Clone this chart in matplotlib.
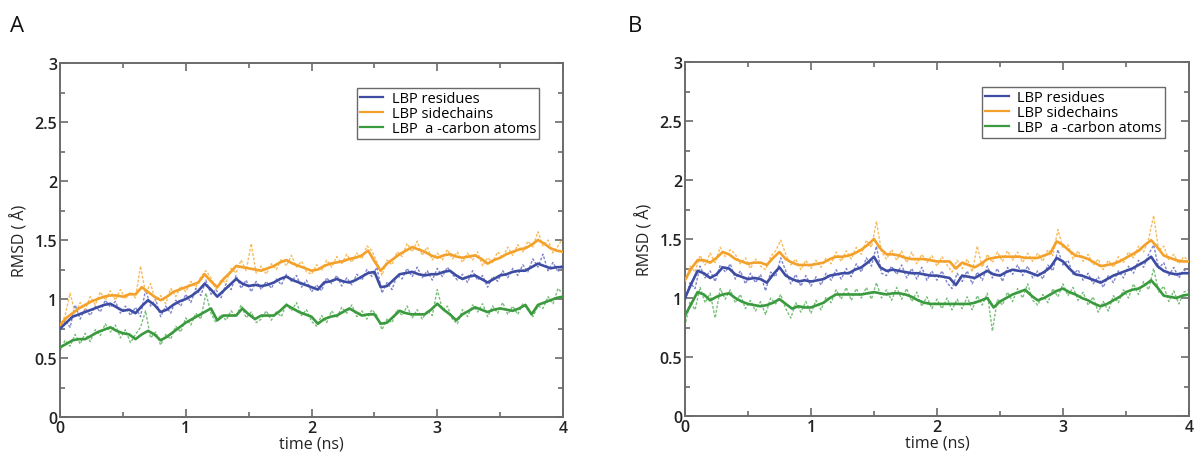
import numpy as np
import matplotlib
matplotlib.use("Agg")
import matplotlib.pyplot as plt
from matplotlib.ticker import MultipleLocator

plt.rcParams['font.family'] = ['Open Sans', 'DejaVu Sans']

# ---------------- data ----------------
labels = ["LBP residues", "LBP sidechains", "LBP  a -carbon atoms"]
panel_names = ["A", "B"]

# smoothed curves, sampled every 0.05 ns from 0 to 4 ns
t_smooth = np.linspace(0, 4, 81)
# raw curves, sampled every 0.04 ns from 0 to 4 ns
t_raw = np.linspace(0, 4, 101)

A_res_smooth = [0.75, 0.80, 0.85, 0.87, 0.89, 0.91, 0.93, 0.95, 0.96, 0.93,
                0.90, 0.91, 0.88, 0.94, 0.99, 0.95, 0.89, 0.91, 0.95, 0.98,
                1.00, 1.03, 1.07, 1.13, 1.08, 1.02, 1.07, 1.12, 1.17, 1.13,
                1.11, 1.12, 1.11, 1.12, 1.14, 1.17, 1.19, 1.16, 1.14, 1.12,
                1.10, 1.08, 1.14, 1.15, 1.17, 1.15, 1.14, 1.16, 1.19, 1.22,
                1.23, 1.10, 1.11, 1.16, 1.21, 1.22, 1.23, 1.21, 1.20, 1.21,
                1.21, 1.23, 1.24, 1.20, 1.17, 1.19, 1.20, 1.17, 1.14, 1.17,
                1.20, 1.21, 1.23, 1.24, 1.24, 1.27, 1.30, 1.28, 1.26, 1.27,
                1.27]
A_side_smooth = [0.78, 0.84, 0.88, 0.92, 0.95, 0.98, 1.00, 1.02, 1.03, 1.03,
                 1.02, 1.04, 1.04, 1.10, 1.06, 1.02, 0.99, 1.02, 1.06, 1.08,
                 1.10, 1.12, 1.14, 1.21, 1.15, 1.10, 1.17, 1.22, 1.28, 1.27,
                 1.26, 1.25, 1.24, 1.26, 1.28, 1.31, 1.33, 1.30, 1.28, 1.26,
                 1.24, 1.25, 1.28, 1.30, 1.31, 1.32, 1.34, 1.35, 1.37, 1.41,
                 1.32, 1.24, 1.30, 1.34, 1.38, 1.41, 1.44, 1.42, 1.40, 1.37,
                 1.35, 1.37, 1.38, 1.36, 1.35, 1.36, 1.37, 1.34, 1.30, 1.33,
                 1.35, 1.38, 1.40, 1.42, 1.43, 1.46, 1.50, 1.47, 1.43, 1.41,
                 1.40]
A_ca_smooth = [0.59, 0.62, 0.65, 0.66, 0.66, 0.69, 0.72, 0.74, 0.76, 0.73,
               0.71, 0.70, 0.66, 0.70, 0.73, 0.70, 0.65, 0.68, 0.72, 0.76,
               0.80, 0.83, 0.86, 0.89, 0.92, 0.82, 0.86, 0.86, 0.86, 0.92,
               0.87, 0.83, 0.86, 0.86, 0.86, 0.90, 0.95, 0.92, 0.89, 0.87,
               0.85, 0.79, 0.83, 0.85, 0.86, 0.89, 0.92, 0.89, 0.86, 0.87,
               0.87, 0.79, 0.80, 0.85, 0.90, 0.88, 0.87, 0.87, 0.87, 0.91,
               0.96, 0.91, 0.87, 0.82, 0.87, 0.90, 0.93, 0.91, 0.89, 0.91,
               0.92, 0.91, 0.90, 0.92, 0.95, 0.87, 0.95, 0.97, 0.99, 1.01,
               1.02]

A_res_raw = [0.73, 0.82, 0.76, 0.95, 0.83, 0.92, 0.86, 0.94, 0.89, 0.99,
             0.93, 0.98, 0.88, 0.94, 0.86, 0.93, 0.85, 1.08, 0.94, 1.00,
             0.85, 0.94, 0.88, 0.99, 0.94, 1.04, 0.97, 1.09, 1.03, 1.16,
             1.04, 1.08, 1.01, 1.13, 1.08, 1.20, 1.09, 1.16, 1.06, 1.15,
             1.08, 1.15, 1.09, 1.17, 1.12, 1.21, 1.15, 1.20, 1.10, 1.16,
             1.06, 1.12, 1.07, 1.18, 1.13, 1.20, 1.11, 1.18, 1.12, 1.21,
             1.16, 1.25, 1.19, 1.27, 1.05, 1.14, 1.08, 1.20, 1.17, 1.26,
             1.19, 1.27, 1.18, 1.24, 1.16, 1.26, 1.19, 1.27, 1.21, 1.16,
             1.21, 1.14, 1.24, 1.16, 1.20, 1.10, 1.19, 1.15, 1.24, 1.18,
             1.26, 1.20, 1.29, 1.23, 1.34, 1.27, 1.38, 1.24, 1.31, 1.23,
             1.31]
A_side_raw = [0.76, 0.86, 1.05, 0.88, 0.97, 0.91, 1.02, 0.95, 1.06, 0.99,
              1.07, 0.99, 1.08, 1.00, 1.06, 1.01, 1.28, 1.05, 1.13, 0.98,
              1.03, 0.96, 1.09, 1.02, 1.11, 1.06, 1.15, 1.10, 1.19, 1.24,
              1.18, 1.08, 1.16, 1.14, 1.26, 1.22, 1.33, 1.24, 1.47, 1.22,
              1.28, 1.21, 1.30, 1.25, 1.34, 1.28, 1.37, 1.27, 1.32, 1.23,
              1.21, 1.29, 1.24, 1.33, 1.27, 1.36, 1.30, 1.38, 1.31, 1.39,
              1.34, 1.45, 1.41, 1.31, 1.20, 1.33, 1.29, 1.40, 1.36, 1.47,
              1.40, 1.49, 1.37, 1.44, 1.33, 1.39, 1.33, 1.42, 1.34, 1.40,
              1.31, 1.39, 1.33, 1.40, 1.28, 1.35, 1.31, 1.40, 1.35, 1.44,
              1.37, 1.46, 1.40, 1.49, 1.44, 1.57, 1.45, 1.50, 1.39, 1.45,
              1.52]
A_ca_raw = [0.56, 0.65, 0.60, 0.70, 0.62, 0.71, 0.64, 0.74, 0.69, 0.79,
            0.72, 0.78, 0.67, 0.74, 0.63, 0.70, 0.76, 0.90, 0.67, 0.72,
            0.61, 0.70, 0.66, 0.77, 0.72, 0.84, 0.78, 0.88, 0.83, 1.05,
            0.88, 0.80, 0.87, 0.82, 0.90, 0.85, 0.95, 0.84, 0.89, 0.80,
            0.83, 0.90, 0.82, 0.89, 0.85, 0.96, 0.90, 0.97, 0.86, 0.91,
            0.81, 0.77, 0.86, 0.80, 0.90, 0.84, 0.93, 0.88, 0.95, 0.85,
            0.90, 0.83, 0.91, 0.86, 0.74, 0.83, 0.80, 0.91, 0.86, 0.94,
            0.84, 0.91, 0.83, 0.90, 0.86, 1.08, 0.91, 0.94, 0.83, 0.79,
            0.91, 0.85, 0.95, 0.89, 0.96, 0.85, 0.94, 0.88, 0.97, 0.87,
            0.94, 0.87, 0.96, 0.91, 0.85, 0.94, 0.92, 1.02, 0.96, 1.09,
            1.04]

B_res_smooth = [1.00, 1.12, 1.23, 1.21, 1.17, 1.20, 1.26, 1.25, 1.20, 1.18,
                1.16, 1.17, 1.16, 1.13, 1.20, 1.26, 1.19, 1.16, 1.14, 1.15,
                1.14, 1.15, 1.16, 1.19, 1.20, 1.21, 1.21, 1.24, 1.26, 1.30,
                1.35, 1.26, 1.23, 1.24, 1.23, 1.22, 1.21, 1.21, 1.20, 1.19,
                1.19, 1.18, 1.17, 1.11, 1.19, 1.18, 1.17, 1.20, 1.23, 1.20,
                1.19, 1.22, 1.24, 1.23, 1.23, 1.21, 1.19, 1.22, 1.26, 1.34,
                1.31, 1.25, 1.20, 1.19, 1.17, 1.15, 1.13, 1.16, 1.19, 1.21,
                1.23, 1.25, 1.28, 1.31, 1.35, 1.27, 1.23, 1.21, 1.20, 1.21,
                1.21]
B_side_smooth = [1.15, 1.25, 1.32, 1.32, 1.30, 1.34, 1.39, 1.37, 1.33, 1.31,
                 1.29, 1.30, 1.30, 1.28, 1.34, 1.39, 1.33, 1.30, 1.28, 1.28,
                 1.28, 1.29, 1.30, 1.33, 1.35, 1.35, 1.36, 1.38, 1.41, 1.45,
                 1.50, 1.42, 1.37, 1.37, 1.36, 1.34, 1.33, 1.33, 1.33, 1.32,
                 1.31, 1.31, 1.31, 1.25, 1.30, 1.28, 1.26, 1.29, 1.33, 1.34,
                 1.35, 1.35, 1.35, 1.35, 1.34, 1.34, 1.34, 1.36, 1.38, 1.48,
                 1.45, 1.40, 1.36, 1.35, 1.33, 1.30, 1.27, 1.28, 1.29, 1.31,
                 1.34, 1.37, 1.40, 1.45, 1.49, 1.43, 1.36, 1.34, 1.32, 1.31,
                 1.31]
B_ca_smooth = [0.85, 0.95, 1.05, 1.03, 0.98, 1.01, 1.03, 1.04, 1.00, 0.97,
               0.95, 0.94, 0.93, 0.94, 0.96, 0.99, 0.95, 0.91, 0.93, 0.92,
               0.92, 0.94, 0.96, 1.00, 1.03, 1.03, 1.03, 1.03, 1.03, 1.04,
               1.05, 1.04, 1.03, 1.04, 1.04, 1.03, 1.01, 0.98, 0.96, 0.95,
               0.95, 0.95, 0.95, 0.95, 0.95, 0.95, 0.96, 0.98, 1.00, 0.92,
               0.97, 1.00, 1.03, 1.05, 1.07, 1.02, 0.98, 1.00, 1.03, 1.06,
               1.08, 1.05, 1.03, 1.00, 0.98, 0.95, 0.93, 0.95, 0.98, 1.01,
               1.05, 1.07, 1.08, 1.11, 1.15, 1.09, 1.02, 1.01, 1.00, 1.02,
               1.03]

B_res_raw = [0.97, 1.13, 1.08, 1.27, 1.17, 1.23, 1.14, 1.28, 1.22, 1.29,
             1.16, 1.23, 1.12, 1.21, 1.13, 1.20, 1.06, 1.22, 1.18, 1.34,
             1.23, 1.12, 1.20, 1.10, 1.19, 1.10, 1.18, 1.11, 1.21, 1.15,
             1.24, 1.16, 1.25, 1.18, 1.29, 1.22, 1.34, 1.27, 1.44, 1.21,
             1.19, 1.27, 1.20, 1.28, 1.17, 1.25, 1.16, 1.26, 1.15, 1.23,
             1.15, 1.23, 1.13, 1.08, 1.21, 1.14, 1.23, 1.12, 1.22, 1.15,
             1.27, 1.17, 1.25, 1.14, 1.26, 1.20, 1.28, 1.19, 1.27, 1.17,
             1.23, 1.16, 1.28, 1.23, 1.41, 1.28, 1.32, 1.20, 1.24, 1.15,
             1.21, 1.12, 1.18, 1.09, 1.19, 1.13, 1.23, 1.17, 1.27, 1.21,
             1.32, 1.26, 1.37, 1.45, 1.25, 1.30, 1.19, 1.26, 1.17, 1.24,
             1.20]
B_side_raw = [1.12, 1.27, 1.22, 1.36, 1.28, 1.38, 1.30, 1.43, 1.35, 1.41,
              1.37, 1.29, 1.34, 1.25, 1.33, 1.27, 1.24, 1.35, 1.40, 1.49,
              1.37, 1.28, 1.33, 1.24, 1.32, 1.25, 1.32, 1.26, 1.34, 1.29,
              1.39, 1.31, 1.40, 1.33, 1.43, 1.37, 1.49, 1.43, 1.65, 1.39,
              1.33, 1.41, 1.32, 1.40, 1.30, 1.39, 1.29, 1.37, 1.30, 1.36,
              1.27, 1.35, 1.28, 1.22, 1.32, 1.25, 1.33, 1.22, 1.44, 1.26,
              1.37, 1.30, 1.39, 1.31, 1.40, 1.32, 1.39, 1.30, 1.38, 1.31,
              1.38, 1.31, 1.41, 1.36, 1.58, 1.42, 1.45, 1.33, 1.40, 1.31,
              1.37, 1.28, 1.33, 1.24, 1.32, 1.26, 1.35, 1.30, 1.39, 1.34,
              1.44, 1.39, 1.50, 1.70, 1.40, 1.44, 1.32, 1.37, 1.29, 1.35,
              1.31]
B_ca_raw = [0.76, 0.97, 0.90, 1.09, 0.96, 1.04, 0.83, 1.08, 0.99, 1.07,
            0.96, 1.03, 0.91, 0.98, 0.89, 0.97, 0.86, 1.00, 0.95, 1.03,
            0.91, 0.83, 0.96, 0.88, 0.97, 0.87, 0.98, 0.90, 1.01, 0.96,
            1.07, 0.99, 1.09, 0.98, 1.08, 1.00, 1.09, 0.99, 1.13, 1.00,
            1.07, 0.98, 1.09, 0.99, 1.08, 0.97, 1.05, 0.93, 1.01, 0.91,
            0.99, 0.91, 1.00, 0.90, 0.99, 0.91, 1.01, 0.90, 1.02, 0.94,
            1.04, 0.72, 0.99, 0.94, 1.05, 0.97, 1.08, 1.00, 1.12, 0.98,
            0.94, 1.03, 0.96, 1.08, 1.01, 1.12, 1.02, 1.09, 0.98, 1.05,
            0.94, 1.01, 0.88, 0.97, 0.89, 1.02, 0.96, 1.07, 1.00, 1.12,
            1.03, 1.14, 1.07, 1.25, 1.05, 1.10, 0.97, 1.06, 0.95, 1.05,
            1.07]

x_ticks = [0, 1, 2, 3, 4]
y_ticks = [0, 0.5, 1, 1.5, 2, 2.5, 3]
y_ticklabels = ["0", "0.5", "1", "1.5", "2", "2.5", "3"]

# ---------------- style ----------------
smooth_colors = ["#3e4da3", "#f4a12c", "#3a9a3e"]
raw_colors = ["#7279c4", "#f6b54f", "#6cb86e"]
spine_color = "#6b6b6b"

panels = [
    (A_res_smooth, A_side_smooth, A_ca_smooth, A_res_raw, A_side_raw, A_ca_raw),
    (B_res_smooth, B_side_smooth, B_ca_smooth, B_res_raw, B_side_raw, B_ca_raw),
]

fig = plt.figure(figsize=(11.96, 4.56), dpi=100)
axes_rects = [[0.0502, 0.0833, 0.4206, 0.7763], [0.5727, 0.0855, 0.4214, 0.7763]]
letter_pos = [(0.008, 0.93), (0.525, 0.93)]

for ax_rect, data, name, lp in zip(axes_rects, panels, panel_names, letter_pos):
    ax = fig.add_axes(ax_rect)
    smooths = data[:3]
    raws = data[3:]
    # raw (dashed) first, then smooth on top
    for raw, c in zip(raws, raw_colors):
        ax.plot(t_raw, raw, color=c, lw=1.0, ls=(0, (2.0, 1.2)), zorder=2,
                alpha=0.9)
    handles = []
    for sm, c, lab in zip(smooths, smooth_colors, labels):
        h, = ax.plot(t_smooth, sm, color=c, lw=1.9, label=lab, zorder=3)
        handles.append(h)

    ax.set_xlim(0, 4)
    ax.set_ylim(0, 3)
    ax.set_xticks(x_ticks)
    ax.set_yticks(y_ticks)
    ax.set_yticklabels(y_ticklabels)
    ax.xaxis.set_minor_locator(MultipleLocator(0.5))
    ax.yaxis.set_minor_locator(MultipleLocator(0.25))
    ax.tick_params(which="both", direction="in", top=True, right=True,
                   color=spine_color, width=1.2)
    ax.tick_params(which="major", length=6, labelsize=11.5, pad=2)
    ax.tick_params(which="minor", length=3.5)
    for lbl in ax.get_xticklabels() + ax.get_yticklabels():
        lbl.set_fontweight("semibold")
        lbl.set_color("#222222")
    for sp in ax.spines.values():
        sp.set_color(spine_color)
        sp.set_linewidth(1.4)
    ax.set_xlabel("time (ns)", fontsize=11.5, labelpad=0, color="#222222")
    ax.set_ylabel("RMSD ( Å)", fontsize=11.5, labelpad=4, color="#222222")

    leg = ax.legend(handles=handles, loc="upper left",
                    bbox_to_anchor=(0.59, 0.93), fontsize=10.5,
                    frameon=True, fancybox=False, handlelength=1.6,
                    handletextpad=0.6, borderpad=0.2, labelspacing=0.0,
                    borderaxespad=0)
    leg.get_frame().set_edgecolor("#444444")
    leg.get_frame().set_linewidth(1.0)
    for h in leg.legend_handles:
        h.set_linewidth(1.6)

    fig.text(lp[0], lp[1], name, fontsize=16, color="#111111")

fig.savefig("out.png", dpi=100)
